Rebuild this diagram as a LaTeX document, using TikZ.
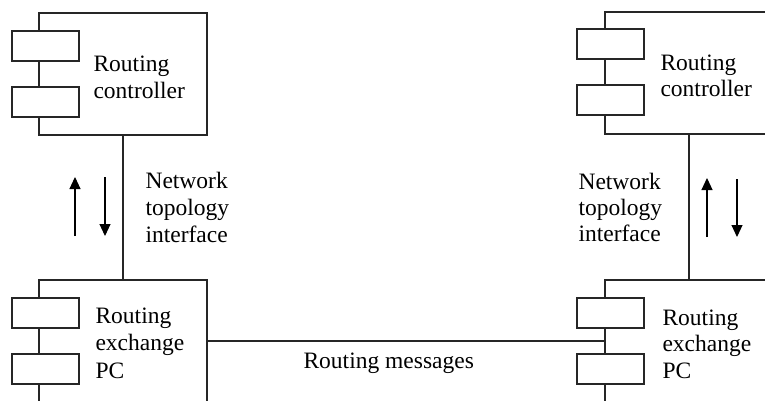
\documentclass[tikz,border=0pt]{standalone}
\usepackage{fontspec}
\setmainfont{Liberation Serif}
\usetikzlibrary{arrows.meta}
\begin{document}
\begin{tikzpicture}[x=1pt,y=-1pt,
  line width=1.1pt, draw=black!85,
  comp/.style={draw=black!85, line width=1.1pt, minimum width=168pt, minimum height=122pt, inner sep=0pt},
  port/.style={draw=black!85, line width=1.1pt, fill=white, minimum width=67pt, minimum height=30pt, inner sep=0pt},
  lbl/.style={anchor=base west, inner sep=0pt, font=\fontsize{23.5}{28}\selectfont},
  arr/.style={draw=black, line width=1.1pt, -{Triangle[length=12pt,width=11pt]}}]
\useasboundingbox (0,0) rectangle (765,401);
\clip (0,0) rectangle (765,401);
% components
\node[comp] (ctrlL) at (123,74) {};
\node[comp] (exL) at (123,341) {};
\node[comp] (ctrlR) at (689,73) {};
\node[comp] (exR) at (689,341) {};
% ports
\node[port] (pL1) at (45.5,46) {};
\node[port] (pL2) at (45.5,102) {};
\node[port] (pL3) at (45.5,313) {};
\node[port] (pL4) at (45.5,369) {};
\node[port] (pR1) at (610.5,44) {};
\node[port] (pR2) at (610.5,100) {};
\node[port] (pR3) at (610.5,313) {};
\node[port] (pR4) at (610.5,369) {};
% connectors
\draw (ctrlL.south) -- (exL.north);
\draw (ctrlR.south) -- (exR.north);
\draw (exL.east) -- (exR.west);
% arrows
\coordinate (aL1s) at (75,236); \coordinate (aL1e) at (75,177);
\coordinate (aL2s) at (105,177); \coordinate (aL2e) at (105,236);
\coordinate (aR1s) at (707,237); \coordinate (aR1e) at (707,178);
\coordinate (aR2s) at (737,179); \coordinate (aR2e) at (737,237);
\draw[arr] (aL1s) -- (aL1e);
\draw[arr] (aL2s) -- (aL2e);
\draw[arr] (aR1s) -- (aR1e);
\draw[arr] (aR2s) -- (aR2e);
% labels
\node[lbl] (tL1) at (93,72) {Routing};
\node[lbl] (tL2) at (93,99) {controller};
\node[lbl] (tL3) at (95,323) {Routing};
\node[lbl] (tL4) at (95,350) {exchange};
\node[lbl] (tL5) at (95,378) {PC};
\node[lbl] (nL1) at (145,188) {Network};
\node[lbl] (nL2) at (145,215) {topology};
\node[lbl] (nL3) at (145,242) {interface};
\node[lbl] (tR1) at (660,71) {Routing};
\node[lbl] (tR2) at (660,97) {controller};
\node[lbl] (tR3) at (662,325) {Routing};
\node[lbl] (tR4) at (662,351) {exchange};
\node[lbl] (tR5) at (662,378) {PC};
\node[lbl] (nR1) at (578,189) {Network};
\node[lbl] (nR2) at (578,215) {topology};
\node[lbl] (nR3) at (578,241) {interface};
\node[lbl] (msg) at (303,368) {Routing messages};
\end{tikzpicture}
\end{document}
